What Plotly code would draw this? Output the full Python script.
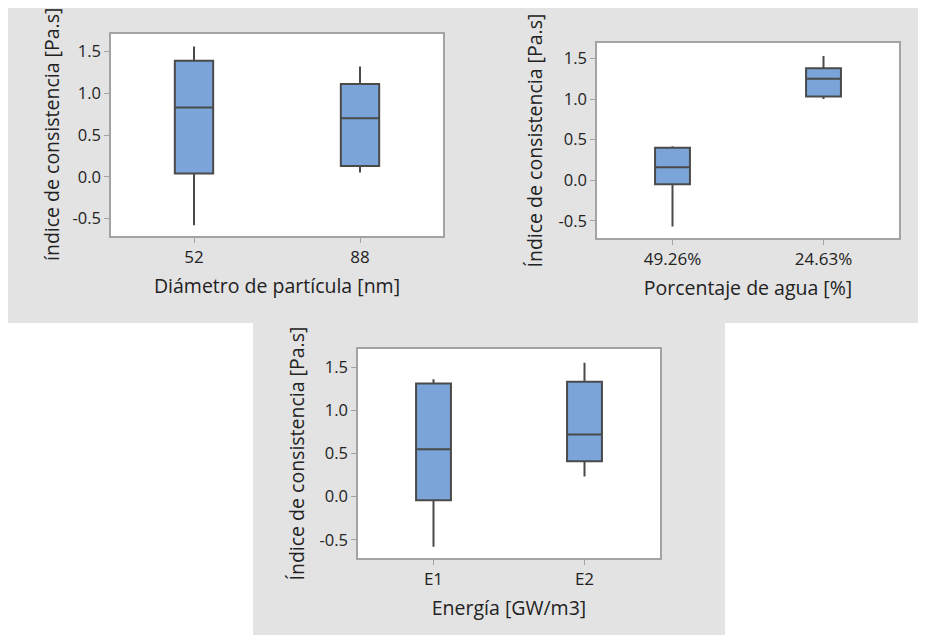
import plotly.graph_objects as go

# ---- data ----
diam_cats = ["52", "88"]
diam_q1 = [0.04, 0.13]
diam_med = [0.83, 0.70]
diam_q3 = [1.39, 1.11]
diam_low = [-0.58, 0.05]
diam_up = [1.56, 1.32]

agua_cats = ["49.26%", "24.63%"]
agua_q1 = [-0.05, 1.03]
agua_med = [0.16, 1.25]
agua_q3 = [0.40, 1.38]
agua_low = [-0.57, 1.00]
agua_up = [0.42, 1.53]

ener_cats = ["E1", "E2"]
ener_q1 = [-0.04, 0.41]
ener_med = [0.55, 0.72]
ener_q3 = [1.31, 1.33]
ener_low = [-0.58, 0.235]
ener_up = [1.36, 1.55]

y_tickvals = [-0.5, 0.0, 0.5, 1.0, 1.5]
y_ticktext = ["-0.5", "0.0", "0.5", "1.0", "1.5"]

x_titles = ["Diámetro de partícula [nm]", "Porcentaje de agua [%]", "Energía [GW/m3]"]
y_titles = ["índice de consistencia [Pa.s]", "Índice de consistencia [Pa.s]", "Índice de consistencia [Pa.s]"]

# ---- style ----
OFF = 8                      # page body margin of the html page
W, H = 926 - OFF, 635 - OFF
FONT = "Open Sans"
TXT = "#222222"
FILL = "#7BA5D8"
EDGE = "#4a4a4a"
FRAME = "#a3a3a3"
PANEL = "#e3e3e3"

def px_x(v):
    return (v - OFF) / W

def px_y(v):
    return 1 - (v - OFF) / H

fig = go.Figure()

groups = [
    (diam_cats, diam_q1, diam_med, diam_q3, diam_low, diam_up),
    (agua_cats, agua_q1, agua_med, agua_q3, agua_low, agua_up),
    (ener_cats, ener_q1, ener_med, ener_q3, ener_low, ener_up),
]
for i, (c, q1, md, q3, lo, up) in enumerate(groups):
    sfx = "" if i == 0 else str(i + 1)
    fig.add_trace(go.Box(
        x=c, q1=q1, median=md, q3=q3, lowerfence=lo, upperfence=up,
        fillcolor=FILL, line=dict(color=EDGE, width=2),
        whiskerwidth=0, boxpoints=False,
        xaxis="x" + sfx, yaxis="y" + sfx, showlegend=False,
    ))

# plot area pixel boxes in the reference: (left, right, top, bottom)
boxes = [(111, 443, 34, 236), (597, 899, 43, 238), (358, 660, 349, 558)]
ytitle_x = [52, 534, 296]
yranges = [[-0.71, 1.71], [-0.71, 1.69], [-0.71, 1.71]]

layout = dict(
    width=W, height=H, margin=dict(l=0, r=0, t=0, b=0),
    paper_bgcolor="white", plot_bgcolor="white",
    boxgap=0.67, showlegend=False,
    font=dict(family=FONT, color=TXT),
)

annotations = []
for i, (l, r, t, b) in enumerate(boxes):
    sfx = "" if i == 0 else str(i + 1)
    layout["xaxis" + sfx] = dict(
        domain=[px_x(l), px_x(r)], anchor="y" + sfx, type="category",
        range=[-0.5, 1.5], showline=True, mirror=True, linecolor=FRAME, linewidth=1.5,
        ticks="outside", ticklen=5, tickcolor=FRAME, showgrid=False, zeroline=False,
        tickfont=dict(size=17, color=TXT, family=FONT),
        title=dict(text=x_titles[i], font=dict(size=19.5, color=TXT, family=FONT), standoff=12),
        automargin=False, fixedrange=True,
    )
    layout["yaxis" + sfx] = dict(
        domain=[px_y(b), px_y(t)], anchor="x" + sfx,
        range=yranges[i], showline=True, mirror=True, linecolor=FRAME, linewidth=1.5,
        ticks="outside", ticklen=5, tickcolor=FRAME, showgrid=False, zeroline=False,
        tickvals=y_tickvals, ticktext=y_ticktext,
        tickfont=dict(size=16.5, color=TXT, family=FONT),
        automargin=False, fixedrange=True,
    )
    annotations.append(dict(
        text=y_titles[i], xref="paper", yref="y" + sfx + " domain",
        x=px_x(ytitle_x[i]), y=0.5, xanchor="center", yanchor="middle",
        textangle=-90, showarrow=False,
        font=dict(size=19.5, color=TXT, family=FONT),
    ))

shapes = [
    dict(type="rect", xref="paper", yref="paper", x0=px_x(7), x1=px_x(921), y0=px_y(323), y1=px_y(7),
         fillcolor=PANEL, line=dict(width=0), layer="below"),
    dict(type="rect", xref="paper", yref="paper", x0=px_x(253), x1=px_x(725), y0=px_y(640), y1=px_y(323),
         fillcolor=PANEL, line=dict(width=0), layer="below"),
]
for i in range(3):
    sfx = "" if i == 0 else str(i + 1)
    shapes.append(dict(type="rect", xref="x" + sfx + " domain", yref="y" + sfx + " domain",
                       x0=0, x1=1, y0=0, y1=1, fillcolor="white", line=dict(width=0), layer="below"))
layout["shapes"] = shapes
layout["annotations"] = annotations

fig.update_layout(**layout)
fig.write_html("out.html")
